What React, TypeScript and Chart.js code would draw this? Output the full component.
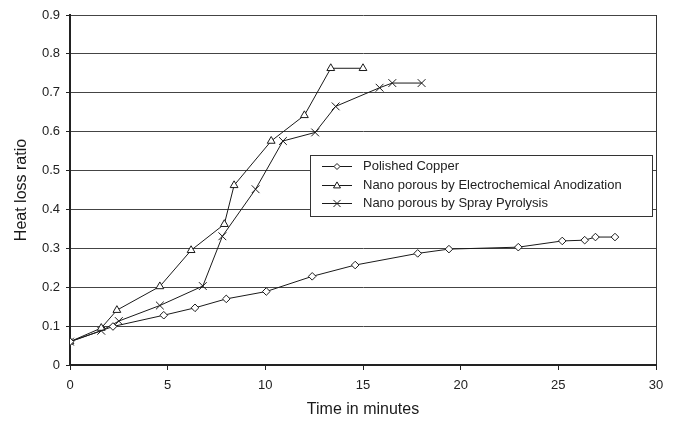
import { useEffect, useRef } from 'react';
import { Chart, registerables } from 'chart.js';

Chart.register(...registerables);

// Time (minutes) and heat loss ratio for each surface
const copperTime = [0, 2.2, 4.8, 6.4, 8.0, 10.05, 12.4, 14.6, 17.8, 19.4, 22.95, 25.2, 26.35, 26.9, 27.9];
const copperRatio = [0.06, 0.099, 0.128, 0.147, 0.17, 0.189, 0.228, 0.257, 0.287, 0.298, 0.303, 0.319, 0.321, 0.329, 0.329];

const anodTime = [0, 1.6, 2.4, 4.6, 6.2, 7.9, 8.4, 10.3, 12.0, 13.35, 15.0];
const anodRatio = [0.06, 0.095, 0.141, 0.202, 0.295, 0.362, 0.462, 0.576, 0.642, 0.763, 0.763];

const sprayTime = [0, 1.6, 2.5, 4.6, 6.8, 7.8, 9.5, 10.9, 12.55, 13.6, 15.85, 16.5, 18.0];
const sprayRatio = [0.06, 0.088, 0.113, 0.153, 0.203, 0.331, 0.452, 0.576, 0.598, 0.665, 0.713, 0.725, 0.725];

const seriesLabels = [
  'Polished Copper',
  'Nano porous by Electrochemical Anodization',
  'Nano porous by Spray Pyrolysis',
];

const FONT = '"Liberation Sans", Arial, sans-serif';
const INK = '#1a1a1a';

const toPoints = (xs: number[], ys: number[]) => xs.map((x, i) => ({ x, y: ys[i] }));

function drawMarker(ctx: CanvasRenderingContext2D, style: string, x: number, y: number, r: number) {
  ctx.beginPath();
  if (style === 'rectRot') {
    ctx.moveTo(x - r, y);
    ctx.lineTo(x, y - r);
    ctx.lineTo(x + r, y);
    ctx.lineTo(x, y + r);
    ctx.closePath();
    ctx.fill();
    ctx.stroke();
  } else if (style === 'triangle') {
    const h = r * 1.5;
    ctx.moveTo(x, y - h * 0.6);
    ctx.lineTo(x + r * 0.87, y + h * 0.4);
    ctx.lineTo(x - r * 0.87, y + h * 0.4);
    ctx.closePath();
    ctx.fill();
    ctx.stroke();
  } else {
    const d = r * 0.7071;
    ctx.moveTo(x - d, y - d);
    ctx.lineTo(x + d, y + d);
    ctx.moveTo(x + d, y - d);
    ctx.lineTo(x - d, y + d);
    ctx.stroke();
  }
}

// Boxed legend drawn inside the plot area
const boxLegend = {
  id: 'boxLegend',
  afterDraw(chart: any, _args: any, opts: any) {
    const { ctx } = chart;
    const { x, y, w, h, rowGap, firstRow, lineLen, textGap } = opts;
    ctx.save();
    ctx.fillStyle = '#ffffff';
    ctx.fillRect(x, y, w, h);
    ctx.strokeStyle = '#333333';
    ctx.lineWidth = 1;
    ctx.strokeRect(x + 0.5, y + 0.5, w, h);
    ctx.font = `13px ${FONT}`;
    ctx.textBaseline = 'middle';
    ctx.textAlign = 'left';
    chart.data.datasets.forEach((ds: any, i: number) => {
      const cy = Math.round(y + firstRow + i * rowGap) + 0.5;
      const lx = x + 12;
      ctx.strokeStyle = INK;
      ctx.lineWidth = 1;
      ctx.beginPath();
      ctx.moveTo(lx, cy);
      ctx.lineTo(lx + lineLen, cy);
      ctx.stroke();
      ctx.fillStyle = '#ffffff';
      drawMarker(ctx, ds.pointStyle, lx + lineLen / 2, cy, ds.legendMarker);
      ctx.fillStyle = '#222222';
      ctx.fillText(ds.label, lx + lineLen + textGap, cy);
    });
    ctx.restore();
  },
};

export default function App() {
  const canvasRef = useRef<HTMLCanvasElement | null>(null);

  useEffect(() => {
    if (!canvasRef.current) return;
    const common = {
      borderColor: INK,
      borderWidth: 1,
      pointBorderColor: INK,
      pointBackgroundColor: '#ffffff',
      pointBorderWidth: 1,
      tension: 0,
      fill: false,
    };
    const chart = new Chart(canvasRef.current, {
      type: 'line',
      data: {
        datasets: [
          {
            ...common,
            label: seriesLabels[0],
            data: toPoints(copperTime, copperRatio),
            pointStyle: 'rectRot',
            pointRadius: 3.8,
            legendMarker: 3,
          } as any,
          {
            ...common,
            label: seriesLabels[1],
            data: toPoints(anodTime, anodRatio),
            pointStyle: 'triangle',
            pointRadius: 4.5,
            legendMarker: 4,
          } as any,
          {
            ...common,
            label: seriesLabels[2],
            data: toPoints(sprayTime, sprayRatio),
            pointStyle: 'crossRot',
            pointRadius: 5.5,
            legendMarker: 5,
          } as any,
        ],
      },
      options: {
        responsive: false,
        animation: false,
        events: [],
        layout: { padding: { top: 15, right: 20, left: 0, bottom: 0 } },
        plugins: {
          legend: { display: false },
          tooltip: { enabled: false },
          boxLegend: {
            x: 310,
            y: 155,
            w: 342,
            h: 61,
            firstRow: 11,
            rowGap: 18.5,
            lineLen: 30,
            textGap: 11,
          },
        } as any,
        scales: {
          x: {
            type: 'linear',
            min: 0,
            max: 30,
            ticks: {
              stepSize: 5,
              padding: 8,
              color: '#222222',
              font: { family: FONT, size: 13 },
            },
            grid: {
              color: (c: any) => (c.tick && c.tick.value === 30 ? '#333333' : 'rgba(0,0,0,0)'),
              tickColor: '#222222',
              tickLength: 5,
              lineWidth: 1,
            },
            border: { display: true, color: '#222222', width: 2 },
            title: {
              display: true,
              text: 'Time in minutes',
              color: '#1a1a1a',
              font: { family: FONT, size: 16 },
              padding: { top: 4, bottom: 7 },
            },
            afterFit: (scale: any) => {
              scale.height = 61;
            },
          },
          y: {
            type: 'linear',
            min: 0,
            max: 0.9,
            ticks: {
              stepSize: 0.1,
              padding: 6,
              color: '#222222',
              font: { family: FONT, size: 13 },
              callback: (v: any) => String(Number(Number(v).toFixed(1))),
            },
            grid: {
              color: '#444444',
              tickColor: '#222222',
              tickLength: 4,
              lineWidth: 1,
            },
            border: { display: true, color: '#222222', width: 2 },
            title: {
              display: true,
              text: 'Heat loss ratio',
              color: '#1a1a1a',
              font: { family: FONT, size: 16 },
              padding: { top: 12, bottom: 4 },
            },
            afterFit: (scale: any) => {
              scale.width = 70;
            },
          },
        },
      } as any,
      plugins: [boxLegend],
    });
    return () => chart.destroy();
  }, []);

  return (
    <div style={{ position: 'fixed', left: 0, top: 0, width: 676, height: 426, background: '#ffffff' }}>
      <canvas ref={canvasRef} width={676} height={426} />
    </div>
  );
}
